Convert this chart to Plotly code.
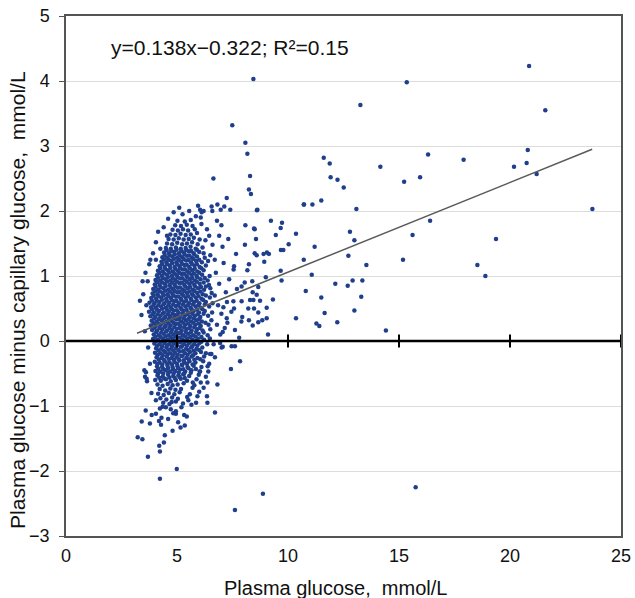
import plotly.graph_objects as go

# Dense cluster of measurements (plasma glucose, difference), read row by row
cluster_pts = [
    [4.38,-0.95],[4.66,-0.97],[4.95,-0.93],[5.27,-0.96],
    [4.25,-0.88],[4.52,-0.90],[4.78,-0.87],[5.04,-0.89],[5.46,-0.86],
    [4.15,-0.81],[4.40,-0.83],[4.63,-0.80],[4.88,-0.82],[5.12,-0.79],[5.58,-0.82],
    [4.22,-0.74],[4.47,-0.76],[4.70,-0.73],[4.93,-0.75],[5.18,-0.74],[5.70,-0.72],
    [4.12,-0.67],[4.35,-0.69],[4.58,-0.66],[4.80,-0.68],[5.03,-0.67],[5.30,-0.65],[5.78,-0.68],
    [4.02,-0.60],[4.27,-0.61],[4.50,-0.59],[4.72,-0.62],[4.95,-0.60],[5.17,-0.58],[5.45,-0.61],[5.88,-0.59],
    [4.12,-0.53],[4.36,-0.55],[4.60,-0.52],[4.83,-0.54],[5.06,-0.53],[5.28,-0.51],[5.55,-0.54],[5.98,-0.52],
    [4.03,-0.46],[4.25,-0.47],[4.48,-0.45],[4.70,-0.47],[4.92,-0.46],[5.14,-0.44],[5.37,-0.47],[5.65,-0.45],[6.02,-0.47],
    [4.10,-0.39],[4.33,-0.40],[4.57,-0.38],[4.80,-0.40],[5.02,-0.39],[5.24,-0.37],[5.47,-0.40],[5.75,-0.38],[6.10,-0.40],
    [4.00,-0.32],[4.22,-0.33],[4.45,-0.31],[4.67,-0.33],[4.89,-0.32],[5.11,-0.30],[5.33,-0.33],[5.56,-0.31],[5.83,-0.33],[6.18,-0.31],
    [4.08,-0.25],[4.31,-0.26],[4.54,-0.24],[4.76,-0.26],[4.98,-0.25],[5.20,-0.23],[5.42,-0.26],[5.66,-0.24],[5.92,-0.26],[6.22,-0.24],
    [4.01,-0.18],[4.24,-0.19],[4.46,-0.17],[4.69,-0.19],[4.91,-0.18],[5.13,-0.16],[5.36,-0.19],[5.58,-0.17],[5.83,-0.19],[6.08,-0.17],[6.30,-0.19],
    [4.06,-0.11],[4.29,-0.12],[4.52,-0.10],[4.74,-0.12],[4.96,-0.11],[5.18,-0.09],[5.41,-0.12],[5.64,-0.10],[5.88,-0.12],[6.14,-0.10],
    [3.98,-0.04],[4.20,-0.05],[4.43,-0.03],[4.65,-0.05],[4.87,-0.04],[5.09,-0.02],[5.31,-0.05],[5.54,-0.03],[5.77,-0.05],[6.01,-0.03],[6.36,-0.05],
    [3.92,0.03],[4.14,0.02],[4.37,0.04],[4.59,0.02],[4.81,0.03],[5.03,0.05],[5.25,0.02],[5.47,0.04],[5.70,0.02],[5.94,0.04],[6.22,0.02],[6.48,0.04],
    [3.95,0.10],[4.18,0.09],[4.40,0.11],[4.62,0.09],[4.84,0.10],[5.06,0.12],[5.28,0.09],[5.50,0.11],[5.73,0.09],[5.97,0.11],[6.38,0.09],
    [3.88,0.17],[4.10,0.16],[4.33,0.18],[4.55,0.16],[4.77,0.17],[4.99,0.19],[5.21,0.16],[5.43,0.18],[5.66,0.16],[5.90,0.18],[6.15,0.16],[6.50,0.18],
    [3.82,0.24],[4.04,0.23],[4.27,0.25],[4.49,0.23],[4.71,0.24],[4.93,0.26],[5.15,0.23],[5.37,0.25],[5.60,0.23],[5.83,0.25],[6.07,0.23],[6.42,0.25],
    [3.86,0.31],[4.08,0.30],[4.31,0.32],[4.53,0.30],[4.75,0.31],[4.97,0.33],[5.19,0.30],[5.41,0.32],[5.64,0.30],[5.87,0.32],[6.12,0.30],[6.55,0.32],
    [3.80,0.38],[4.02,0.37],[4.25,0.39],[4.47,0.37],[4.69,0.38],[4.91,0.40],[5.13,0.37],[5.35,0.39],[5.58,0.37],[5.81,0.39],[6.05,0.37],[6.40,0.39],
    [3.74,0.45],[3.96,0.44],[4.19,0.46],[4.41,0.44],[4.63,0.45],[4.85,0.47],[5.07,0.44],[5.29,0.46],[5.52,0.44],[5.75,0.46],[5.99,0.44],[6.25,0.46],[6.58,0.44],
    [3.83,0.52],[4.05,0.51],[4.28,0.53],[4.50,0.51],[4.72,0.52],[4.94,0.54],[5.16,0.51],[5.38,0.53],[5.61,0.51],[5.84,0.53],[6.08,0.51],[6.45,0.53],
    [3.76,0.59],[3.98,0.58],[4.21,0.60],[4.43,0.58],[4.65,0.59],[4.87,0.61],[5.09,0.58],[5.31,0.60],[5.54,0.58],[5.77,0.60],[6.01,0.58],[6.30,0.60],[6.60,0.58],
    [3.84,0.66],[4.06,0.65],[4.29,0.67],[4.51,0.65],[4.73,0.66],[4.95,0.68],[5.17,0.65],[5.39,0.67],[5.62,0.65],[5.85,0.67],[6.10,0.65],[6.48,0.67],
    [3.90,0.73],[4.12,0.72],[4.35,0.74],[4.57,0.72],[4.79,0.73],[5.01,0.75],[5.23,0.72],[5.45,0.74],[5.68,0.72],[5.91,0.74],[6.16,0.72],[6.56,0.74],
    [3.93,0.80],[4.15,0.79],[4.38,0.81],[4.60,0.79],[4.82,0.80],[5.04,0.82],[5.26,0.79],[5.48,0.81],[5.71,0.79],[5.95,0.81],[6.22,0.79],[6.50,0.81],
    [4.00,0.87],[4.22,0.86],[4.45,0.88],[4.67,0.86],[4.89,0.87],[5.11,0.89],[5.33,0.86],[5.55,0.88],[5.78,0.86],[6.02,0.88],[6.44,0.86],
    [4.03,0.94],[4.25,0.93],[4.48,0.95],[4.70,0.93],[4.92,0.94],[5.14,0.96],[5.36,0.93],[5.58,0.95],[5.81,0.93],[6.06,0.95],[6.38,0.93],
    [4.10,1.01],[4.32,1.00],[4.55,1.02],[4.77,1.00],[4.99,1.01],[5.21,1.03],[5.43,1.00],[5.65,1.02],[5.88,1.00],[6.13,1.02],[6.47,1.00],
    [4.14,1.08],[4.36,1.07],[4.59,1.09],[4.81,1.07],[5.03,1.08],[5.25,1.10],[5.47,1.07],[5.69,1.09],[5.92,1.07],[6.20,1.09],
    [4.22,1.15],[4.44,1.14],[4.67,1.16],[4.89,1.14],[5.11,1.15],[5.33,1.17],[5.55,1.14],[5.78,1.16],[6.02,1.14],[6.30,1.16],
    [4.30,1.22],[4.52,1.21],[4.75,1.23],[4.97,1.21],[5.19,1.22],[5.41,1.24],[5.63,1.21],[5.86,1.23],[6.12,1.21],[6.40,1.23],
    [4.34,1.29],[4.56,1.28],[4.79,1.30],[5.01,1.28],[5.23,1.29],[5.45,1.31],[5.67,1.28],[5.90,1.30],[6.25,1.28],
    [4.42,1.36],[4.64,1.35],[4.87,1.37],[5.09,1.35],[5.31,1.36],[5.53,1.38],[5.75,1.35],[6.00,1.37],[6.20,1.35],
    [4.50,1.43],[4.72,1.42],[4.95,1.44],[5.17,1.42],[5.39,1.43],[5.61,1.45],[5.84,1.42],[6.15,1.44],
    [4.55,1.50],[4.78,1.49],[5.01,1.51],[5.23,1.49],[5.45,1.50],[5.68,1.52],[5.93,1.49],
    [4.62,1.57],[4.85,1.56],[5.08,1.58],[5.30,1.56],[5.53,1.57],[5.76,1.59],[6.02,1.56],
    [4.70,1.64],[4.93,1.63],[5.16,1.65],[5.39,1.63],[5.62,1.64],[5.90,1.66],
    [4.80,1.71],[5.04,1.70],[5.27,1.72],[5.50,1.70],[5.80,1.72],
    [4.92,1.78],[5.18,1.77],[5.44,1.79],[5.70,1.77],
    [5.02,1.85],[5.35,1.84],[5.62,1.86],
]

# Additional measurements packed in the core of the cluster
core_pts = [
    [4.20,-0.565],[4.43,-0.575],[4.66,-0.56],[4.90,-0.57],[5.12,-0.555],[5.35,-0.57],
    [4.15,-0.495],[4.38,-0.50],[4.61,-0.485],[4.85,-0.50],[5.08,-0.49],[5.32,-0.505],[5.62,-0.49],
    [4.15,-0.425],[4.38,-0.43],[4.60,-0.415],[4.82,-0.43],[5.05,-0.42],[5.28,-0.435],[5.52,-0.42],[5.85,-0.43],
    [4.12,-0.355],[4.34,-0.36],[4.56,-0.345],[4.78,-0.36],[5.00,-0.35],[5.22,-0.365],[5.45,-0.35],[5.70,-0.36],
    [4.18,-0.285],[4.41,-0.29],[4.63,-0.275],[4.86,-0.29],[5.08,-0.28],[5.30,-0.295],[5.53,-0.28],[5.78,-0.29],[6.05,-0.28],
    [4.13,-0.215],[4.36,-0.22],[4.58,-0.205],[4.81,-0.22],[5.03,-0.21],[5.25,-0.225],[5.48,-0.21],[5.72,-0.22],
    [4.16,-0.145],[4.39,-0.15],[4.61,-0.135],[4.84,-0.15],[5.06,-0.14],[5.28,-0.155],[5.51,-0.14],[5.75,-0.15],[6.00,-0.14],
    [4.10,-0.075],[4.33,-0.08],[4.55,-0.065],[4.78,-0.08],[5.00,-0.07],[5.22,-0.085],[5.45,-0.07],[5.68,-0.08],[5.92,-0.07],
    [4.05,-0.005],[4.28,-0.01],[4.50,0.005],[4.72,-0.01],[4.94,0.00],[5.16,-0.015],[5.38,0.00],[5.61,-0.01],[5.84,0.00],[6.10,-0.01],
    [4.03,0.065],[4.26,0.06],[4.49,0.075],[4.71,0.06],[4.93,0.07],[5.15,0.055],[5.37,0.07],[5.60,0.06],[5.83,0.07],[6.10,0.06],
    [4.06,0.135],[4.29,0.13],[4.51,0.145],[4.73,0.13],[4.95,0.14],[5.17,0.125],[5.39,0.14],[5.62,0.13],[5.86,0.14],[6.20,0.13],
    [3.98,0.205],[4.21,0.20],[4.44,0.215],[4.66,0.20],[4.88,0.21],[5.10,0.195],[5.32,0.21],[5.55,0.20],[5.78,0.21],[6.02,0.20],
    [3.95,0.275],[4.17,0.27],[4.40,0.285],[4.62,0.27],[4.84,0.28],[5.06,0.265],[5.28,0.28],[5.50,0.27],[5.73,0.28],[5.98,0.27],[6.28,0.28],
    [3.97,0.345],[4.19,0.34],[4.42,0.355],[4.64,0.34],[4.86,0.35],[5.08,0.335],[5.30,0.35],[5.52,0.34],[5.75,0.35],[6.00,0.34],
    [3.91,0.415],[4.13,0.41],[4.36,0.425],[4.58,0.41],[4.80,0.42],[5.02,0.405],[5.24,0.42],[5.46,0.41],[5.69,0.42],[5.93,0.41],[6.20,0.42],
    [3.88,0.485],[4.10,0.48],[4.33,0.495],[4.55,0.48],[4.77,0.49],[4.99,0.475],[5.21,0.49],[5.43,0.48],[5.66,0.49],[5.90,0.48],[6.15,0.49],
    [3.94,0.555],[4.16,0.55],[4.39,0.565],[4.61,0.55],[4.83,0.56],[5.05,0.545],[5.27,0.56],[5.49,0.55],[5.72,0.56],[5.96,0.55],[6.25,0.56],
    [3.87,0.625],[4.09,0.62],[4.32,0.635],[4.54,0.62],[4.76,0.63],[4.98,0.615],[5.20,0.63],[5.42,0.62],[5.65,0.63],[5.89,0.62],[6.18,0.63],
    [3.95,0.695],[4.17,0.69],[4.40,0.705],[4.62,0.69],[4.84,0.70],[5.06,0.685],[5.28,0.70],[5.50,0.69],[5.73,0.70],[5.97,0.69],[6.30,0.70],
    [4.01,0.765],[4.23,0.76],[4.46,0.775],[4.68,0.76],[4.90,0.77],[5.12,0.755],[5.34,0.77],[5.56,0.76],[5.79,0.77],[6.05,0.76],
    [4.04,0.835],[4.26,0.83],[4.49,0.845],[4.71,0.83],[4.93,0.84],[5.15,0.825],[5.37,0.84],[5.59,0.83],[5.82,0.84],[6.08,0.83],[6.30,0.84],
    [4.11,0.905],[4.33,0.90],[4.56,0.915],[4.78,0.90],[5.00,0.91],[5.22,0.895],[5.44,0.91],[5.66,0.90],[5.89,0.91],[6.20,0.90],
    [4.14,0.975],[4.36,0.97],[4.59,0.985],[4.81,0.97],[5.03,0.98],[5.25,0.965],[5.47,0.98],[5.69,0.97],[5.92,0.98],[6.25,0.97],
    [4.21,1.045],[4.43,1.04],[4.66,1.055],[4.88,1.04],[5.10,1.05],[5.32,1.035],[5.54,1.05],[5.76,1.04],[6.00,1.05],
    [4.25,1.115],[4.47,1.11],[4.70,1.125],[4.92,1.11],[5.14,1.12],[5.36,1.105],[5.58,1.12],[5.80,1.11],[6.10,1.12],
    [4.33,1.185],[4.55,1.18],[4.78,1.195],[5.00,1.18],[5.22,1.19],[5.44,1.175],[5.66,1.19],[5.90,1.18],
    [4.41,1.255],[4.63,1.25],[4.86,1.265],[5.08,1.25],[5.30,1.26],[5.52,1.245],[5.74,1.26],[6.00,1.25],
    [4.45,1.325],[4.67,1.32],[4.90,1.335],[5.12,1.32],[5.34,1.33],[5.56,1.315],[5.78,1.33],
    [4.53,1.395],[4.75,1.39],[4.98,1.405],[5.20,1.39],[5.42,1.40],[5.64,1.385],[5.90,1.40],
]

# Points around the edges of the cluster
fringe_pts = [
    [3.55,0.15],[3.62,0.55],[3.48,0.72],[3.68,0.92],[3.58,1.05],[3.75,1.18],[3.40,0.40],[3.70,-0.10],
    [3.78,-0.35],[3.65,-0.62],[3.85,-0.80],[3.92,1.35],[4.05,1.52],[4.15,1.68],[3.80,1.25],[3.33,0.62],[3.45,0.92],
    [4.40,1.75],[4.60,1.88],[5.25,1.95],[5.55,2.00],[5.85,1.92],[4.85,1.98],[5.10,2.05],[4.55,1.62],[6.10,1.80],
    [6.35,1.72],[6.28,1.55],[6.45,1.62],[6.60,1.48],[6.50,1.32],[6.70,1.25],[5.95,2.08],[6.20,2.00],[4.25,1.42],[4.05,1.25],
    [6.75,1.05],[6.90,0.88],[6.70,0.70],[6.85,0.55],[7.00,0.42],[6.80,0.25],[6.95,0.10],[6.65,-0.05],[6.55,-0.20],
    [6.45,-0.35],[6.30,-0.55],[6.20,-0.72],[6.00,-0.78],[6.35,-0.85],[7.20,0.75],[7.35,0.95],[7.10,1.20],[7.05,1.45],
    [7.25,0.60],[7.45,0.45],[7.15,0.20],[7.70,0.80],[7.55,1.10],[7.90,0.30],[8.05,0.90],[7.80,0.05],[6.90,1.62],
    [6.80,1.85],[7.00,1.78],
    [4.50,-1.02],[4.72,-1.05],[4.95,-1.12],[5.20,-1.02],[5.65,-0.98],[4.30,-1.18],[4.60,-1.20],[5.05,-1.25],
    [4.80,-1.38],[4.45,-1.45],[5.35,-1.30],
]

# Scattered individual points
sparse_pts = [
    [7.49,3.32],[8.08,3.05],[8.17,2.88],[6.64,2.50],[8.29,2.54],[8.24,2.33],[8.33,2.26],[7.24,2.20],[6.82,2.10],
    [6.56,2.07],[7.13,2.07],[6.04,2.02],[6.11,1.98],[6.59,2.00],[6.97,2.02],[7.40,2.02],[8.62,2.02],[10.72,2.10],
    [6.07,1.90],[9.23,1.85],[9.73,1.82],[8.08,1.78],[9.67,1.74],[8.47,1.73],
    [8.44,4.03],[15.35,3.98],[20.86,4.23],[13.26,3.63],[21.59,3.55],[11.61,2.82],[11.88,2.73],[14.16,2.68],
    [16.31,2.87],[17.91,2.79],[20.80,2.94],[20.18,2.68],[20.75,2.74],[21.20,2.57],[11.92,2.52],[12.23,2.48],
    [12.51,2.36],[15.23,2.45],[15.95,2.52],[23.71,2.03],[10.71,2.10],[11.10,2.10],[11.50,2.16],[13.08,2.03],
    [8.60,2.01],[16.40,1.85],[15.61,1.63],[19.37,1.57],[15.18,1.25],[18.53,1.17],[18.89,1.00],
    [8.50,1.72],[8.56,1.57],[9.45,1.63],[10.36,1.65],[12.79,1.68],[12.99,1.55],[10.03,1.49],[11.20,1.45],
    [9.68,1.40],[9.79,1.40],[8.50,1.35],[8.59,1.32],[8.90,1.34],[9.05,1.36],[9.14,1.34],[10.71,1.25],[12.72,1.31],
    [13.53,1.17],[9.67,1.08],[11.07,1.02],[9.00,0.98],[9.71,0.93],[12.91,0.93],[13.35,0.93],[12.69,0.85],
    [12.13,0.88],[10.80,0.77],[8.66,0.83],[8.59,0.71],[8.41,0.75],[8.74,0.62],[8.44,0.63],[9.32,0.64],[11.50,0.67],
    [13.30,0.68],[8.47,0.50],[9.04,0.51],[8.66,0.44],[12.99,0.47],[11.65,0.43],[10.36,0.35],[9.04,0.35],[8.84,0.32],
    [8.66,0.29],[8.41,0.24],[11.28,0.27],[11.41,0.23],[12.22,0.29],[9.10,0.10],[14.41,0.16],
    [7.31,1.57],[8.06,1.48],[7.66,1.34],[7.57,1.15],[8.24,1.18],[8.17,1.09],[8.93,1.22],[8.39,0.92],[7.91,0.84],
    [7.54,0.61],[7.91,0.61],[8.29,0.63],[7.57,0.50],[8.21,0.50],[7.09,0.52],[7.94,0.37],[8.24,0.32],[7.24,0.35],
    [7.27,0.28],[7.06,0.14],[7.61,0.17],[7.46,-0.08],[7.61,-0.08],[7.01,-0.10],
    [7.84,-0.31],[7.43,-0.43],[6.82,-0.67],[6.71,-1.10],[6.37,-0.95],[5.86,-0.95],[5.92,-0.85],[5.51,-0.91],
    [5.16,-1.33],[5.44,-1.16],[5.32,-1.14],[4.99,-1.97],[4.23,-2.12],[8.87,-2.35],[7.61,-2.60],[15.75,-2.25],
    [3.69,-1.78],[3.23,-1.48],[3.44,-1.51],[4.20,-1.61],[4.41,-1.56],[4.23,-1.70],[3.41,-1.24],[3.78,-1.27],
    [4.28,-1.29],[4.19,-1.23],[3.59,-1.07],[3.86,-1.14],[4.05,-1.12],[4.23,-1.04],[4.35,-1.01],[4.83,-1.11],
    [4.95,-1.08],[4.05,-0.91],[4.76,-0.94],[3.53,-0.45],[3.60,-0.48],[3.56,-0.55],[3.63,-0.58],[6.37,-0.64],
    [6.07,-0.64],[5.71,-0.64],[6.38,-0.39],[6.04,-0.47],[6.41,-0.47],[6.49,-0.20],[6.71,-0.25],[6.94,-0.03],[7.06,-0.09],
]

# Fitted regression line endpoints (y = 0.138x - 0.322)
fit_x = [3.2, 23.7]
fit_y = [0.12, 2.95]

x_ticks = [0, 5, 10, 15, 20, 25]
y_ticks = [-3, -2, -1, 0, 1, 2, 3, 4, 5]
zero_line_ticks = [5, 10, 15, 20, 25]

all_pts = cluster_pts + core_pts + fringe_pts + sparse_pts
xs = [p[0] for p in all_pts]
ys = [p[1] for p in all_pts]

FONT = "Liberation Sans, Arial, Helvetica, sans-serif"
DOT = "#1f3f8c"

fig = go.Figure()
fig.add_trace(go.Scatter(
    x=xs, y=ys, mode="markers",
    marker=dict(size=4.5, color=DOT, line=dict(width=0)),
    showlegend=False, hoverinfo="skip",
))
fig.add_trace(go.Scatter(
    x=fit_x, y=fit_y, mode="lines",
    line=dict(color="#5a5a5a", width=1.5),
    showlegend=False, hoverinfo="skip",
))

shapes = [dict(type="line", xref="x", yref="y", x0=0, x1=25, y0=0, y1=0,
               line=dict(color="black", width=2.5), layer="above")]
for t in zero_line_ticks:
    shapes.append(dict(type="line", xref="x", yref="y", x0=t, x1=t, y0=-0.1, y1=0.1,
                       line=dict(color="black", width=2), layer="above"))
shapes.append(dict(type="line", xref="x", yref="y", x0=0, x1=0.2, y0=0, y1=0,
                   line=dict(color="black", width=2), layer="above"))

fig.update_layout(
    width=635, height=598,
    margin=dict(l=66, r=14, t=16, b=62),
    paper_bgcolor="white", plot_bgcolor="white",
    font=dict(family=FONT, size=18, color="#111"),
    shapes=shapes,
    annotations=[
        dict(x=1.95, y=4.52, xref="x", yref="y", text="y=0.138x\u22120.322; R\u00b2=0.15",
             showarrow=False, xanchor="left", yanchor="middle",
             font=dict(family=FONT, size=21, color="#111")),
        dict(x=0.485, y=-0.10, xref="paper", yref="paper", text="Plasma glucose,  mmol/L",
             showarrow=False, xanchor="center", yanchor="middle",
             font=dict(family=FONT, size=20, color="#111")),
        dict(x=-0.0865, y=0.454, xref="paper", yref="paper",
             text="Plasma glucose minus capillary glucose,  mmol/L", textangle=-90,
             showarrow=False, xanchor="center", yanchor="middle",
             font=dict(family=FONT, size=21, color="#111")),
    ],
)
fig.update_xaxes(
    range=[0, 25], tickvals=x_ticks, ticks="", showgrid=False, zeroline=False,
    showline=True, linecolor="#555", linewidth=1.5, mirror=True,
    tickfont=dict(family=FONT, size=18), ticklabelstandoff=3,
    automargin=False,
)
fig.update_yaxes(
    range=[-3, 5], tickvals=y_ticks, ticks="outside", ticklen=5, tickcolor="#555",
    showgrid=True, gridcolor="#dcdcdc", gridwidth=1, zeroline=False,
    showline=True, linecolor="#555", linewidth=1.5, mirror=True,
    tickfont=dict(family=FONT, size=18), ticklabelstandoff=6,
    automargin=False,
)

fig.write_html("out.html", config={"displayModeBar": False},
               post_script="document.body.style.margin='0px';")
